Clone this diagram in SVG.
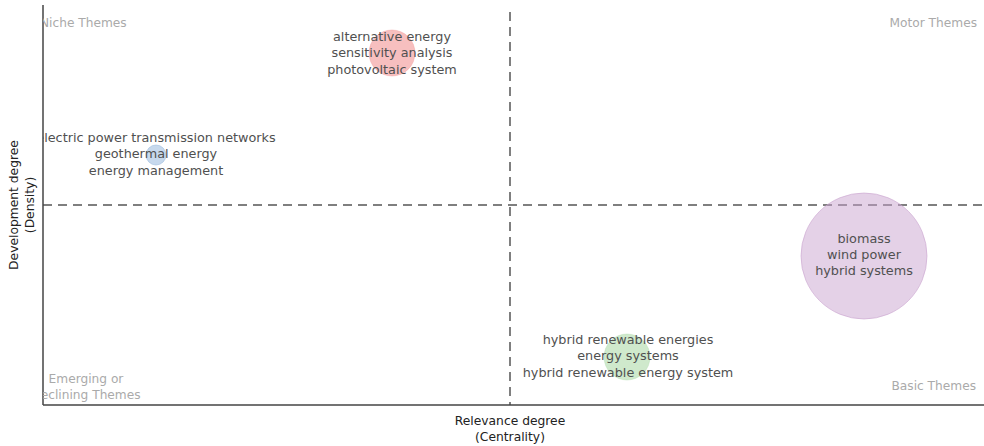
<svg xmlns="http://www.w3.org/2000/svg" width="984" height="446" viewBox="0 0 984 446">
<style>
.lbl{font-family:"DejaVu Sans",Verdana,sans-serif;font-size:12.8px;fill:#505050;text-anchor:middle}
.quad{font-family:"DejaVu Sans",Verdana,sans-serif;font-size:12.2px;fill:#aaa}
.ax{font-family:"DejaVu Sans",Verdana,sans-serif;font-size:12.3px;fill:#222;text-anchor:middle}
.dash{stroke:#555;stroke-width:1.5;stroke-dasharray:9 6;fill:none}
.axis{stroke:#444;stroke-width:1.5;fill:none}
</style>
<defs>
<clipPath id="plot"><rect x="43" y="0" width="941" height="405"/></clipPath>
</defs>
<rect width="984" height="446" fill="#fff"/>
<g id="connectors">
<line class="dash" x1="510" y1="12" x2="510" y2="405"/>
<line class="dash" x1="43" y1="205" x2="984" y2="205"/>
<line class="axis" x1="43" y1="5" x2="43" y2="405"/>
<line class="axis" x1="43" y1="405" x2="984" y2="405"/>
</g>
<g clip-path="url(#plot)">
<g id="quadrants">
<text class="quad" x="40" y="27">Niche Themes</text>
<text class="quad" x="977" y="27" text-anchor="end">Motor Themes</text>
<text class="quad" x="976" y="390" text-anchor="end">Basic Themes</text>
<text class="quad" x="86" y="383" text-anchor="middle">Emerging or</text>
<text class="quad" x="86" y="399" text-anchor="middle">Declining Themes</text>
</g>
<g id="node-red">
<circle cx="392" cy="53" r="23" fill="#f08080" fill-opacity="0.5" stroke="#f08080" stroke-opacity="0.3"/>
<text class="lbl" x="392" y="41">alternative energy</text>
<text class="lbl" x="392" y="57">sensitivity analysis</text>
<text class="lbl" x="392" y="74">photovoltaic system</text>
</g>
<g id="node-blue">
<circle cx="156" cy="155" r="10" fill="#8fb4dc" fill-opacity="0.5" stroke="#8fb4dc" stroke-opacity="0.5"/>
<text class="lbl" x="156" y="142">electric power transmission networks</text>
<text class="lbl" x="156" y="158">geothermal energy</text>
<text class="lbl" x="156" y="175">energy management</text>
</g>
<g id="node-purple">
<circle cx="864" cy="256" r="63" fill="#c9a3cf" fill-opacity="0.5" stroke="#c9a3cf" stroke-opacity="0.6"/>
<text class="lbl" x="864" y="243">biomass</text>
<text class="lbl" x="864" y="259">wind power</text>
<text class="lbl" x="864" y="275">hybrid systems</text>
</g>
<g id="node-green">
<circle cx="627" cy="357" r="23" fill="#9fd49a" fill-opacity="0.5" stroke="#9fd49a" stroke-opacity="0.3"/>
<text class="lbl" x="628" y="344">hybrid renewable energies</text>
<text class="lbl" x="628" y="360">energy systems</text>
<text class="lbl" x="628" y="377">hybrid renewable energy system</text>
</g>
</g>
<g id="axis-titles">
<text class="ax" x="510" y="425">Relevance degree</text>
<text class="ax" x="510" y="441">(Centrality)</text>
<text class="ax" transform="translate(18,205) rotate(-90)">Development degree</text>
<text class="ax" transform="translate(34,205) rotate(-90)">(Density)</text>
</g>
</svg>
